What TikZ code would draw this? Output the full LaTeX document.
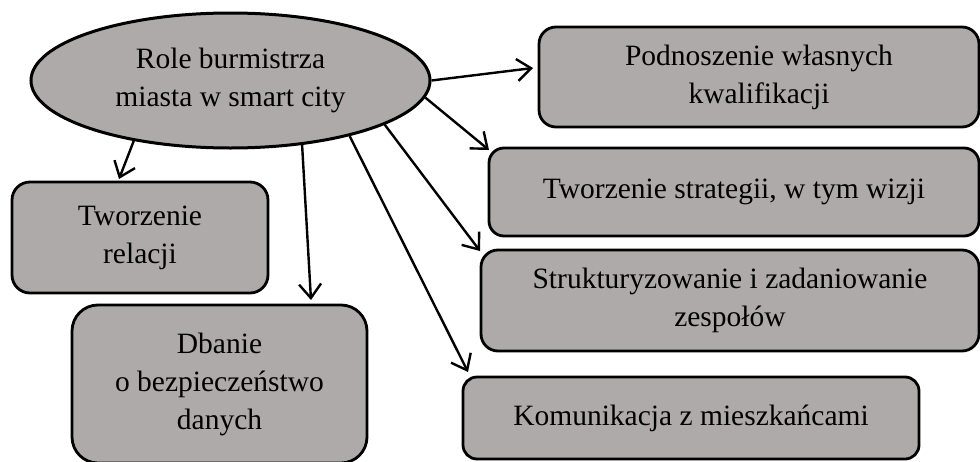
\documentclass[tikz,border=0pt]{standalone}
\usepackage{fontspec}
\setmainfont{Liberation Serif}
\usetikzlibrary{shapes.geometric,arrows.meta}
\definecolor{boxgray}{HTML}{AEAAAA}
\begin{document}
\begin{tikzpicture}[x=1pt,y=-1pt,
  every node/.style={font=\fontsize{29.5}{38}\selectfont, align=center, inner sep=0pt},
  rbox/.style={draw=black, line width=2.8pt, fill=boxgray, rectangle},
  arr/.style={draw=black, line width=2.4pt, -{Straight Barb[length=14pt,width=22pt,line width=2.4pt]}}]
\useasboundingbox (0,0) rectangle (980,461);
\clip (0,0) rectangle (980,461);
% ellipse
\node[draw=black, line width=3pt, fill=boxgray, ellipse, minimum width=399pt, minimum height=135pt] (ell) at (230.5,80.5) {Role burmistrza\\miasta w smart city};
% boxes
\node[rbox, rounded corners=17pt, minimum width=440pt, minimum height=100pt] (pod) at (759,77) {Podnoszenie własnych\\kwalifikacji};
\node[rbox, rounded corners=15pt, minimum width=490pt, minimum height=88pt] (str) at (734,192) {Tworzenie strategii, w tym wizji};
\node[rbox, rounded corners=17pt, minimum width=498pt, minimum height=101pt] (stk) at (730,300.5) {Strukturyzowanie i zadaniowanie\\zespołów};
\node[rbox, rounded corners=14pt, minimum width=456pt, minimum height=82pt] (kom) at (691,418) {Komunikacja z mieszkańcami};
\node[rbox, rounded corners=18pt, minimum width=256pt, minimum height=111pt] (rel) at (140,237.5) {Tworzenie\\relacji};
\node[rbox, rounded corners=26pt, minimum width=295pt, minimum height=158pt] (dba) at (219.5,384) {Dbanie\\o bezpieczeństwo\\danych};
% arrow tips
\coordinate (t1) at (533,68);
\coordinate (t2) at (489,150);
\coordinate (t3) at (480,251);
\coordinate (t4) at (468,372);
\coordinate (t5) at (311,300);
\coordinate (t6) at (119,179);
% arrows
\draw[arr] (ell.east) -- (t1);
\draw[arr] (ell.-5.7) -- (t2);
\draw[arr] (ell.-16.8) -- (t3);
\draw[arr] (ell.-25.5) -- (t4);
\draw[arr] (ell.-42) -- (t5);
\draw[arr] (ell.-148.6) -- (t6);
\end{tikzpicture}
\end{document}
